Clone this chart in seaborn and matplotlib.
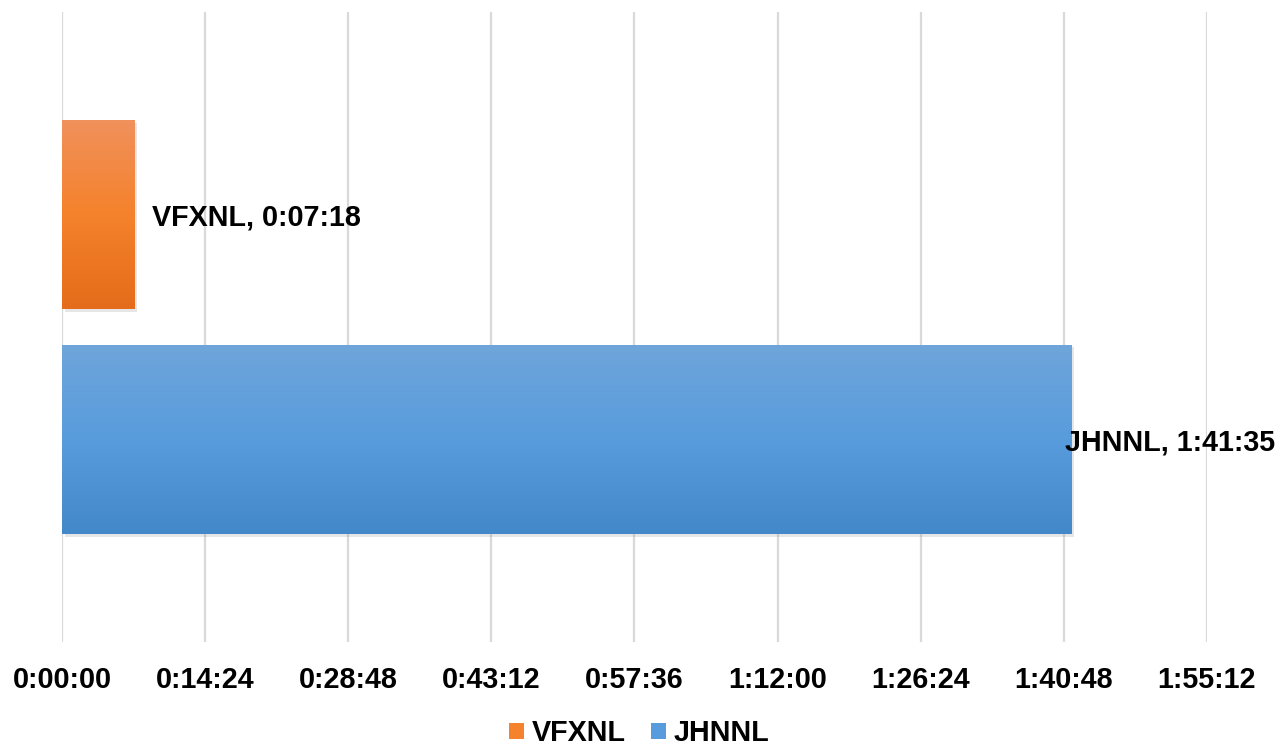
import numpy as np
import pandas as pd
import matplotlib
matplotlib.use("Agg")
import matplotlib.pyplot as plt
import matplotlib.patheffects as pe
from matplotlib.colors import LinearSegmentedColormap
from matplotlib.patches import Patch
import seaborn as sns

# data: durations in seconds
series = ["VFXNL", "JHNNL"]
durations = [438, 6095]          # 0:07:18 and 1:41:35
category = ["total", "total"]
tick_step = 864                  # 0:14:24
x_max = 6912                     # 1:55:12

colors = {"VFXNL": "#F5822F", "JHNNL": "#5A9BD9"}
gradients = {
    "VFXNL": ["#F0915C", "#F5822C", "#E46C1A"],
    "JHNNL": ["#6FA5DA", "#589CDD", "#4388C8"],
}
# label offset from bar end (pixels); the long one is pushed back to fit
label_offsets = [17, -7]


def fmt_time(sec):
    sec = int(round(sec))
    return f"{sec // 3600}:{(sec % 3600) // 60:02d}:{sec % 60:02d}"


df = pd.DataFrame({"cat": category, "series": series, "dur": durations})

sns.set_theme(style="white")
plt.rcParams["font.family"] = ["Liberation Sans", "DejaVu Sans"]
plt.rcParams["font.weight"] = "bold"
fs = 20.7

fig = plt.figure(figsize=(12.84, 7.45), dpi=100)
ax = fig.add_axes([62 / 1284, 103 / 745, 1145 / 1284, 630 / 745])

sns.barplot(data=df, x="dur", y="cat", hue="series", hue_order=series,
            palette=colors, orient="h", width=0.8, gap=0.156, legend=False,
            ax=ax, zorder=3)

# gradient fill + soft shadow on each bar
for patch, name in zip(ax.patches, series):
    x0, y0 = patch.get_x(), patch.get_y()
    w, h = patch.get_width(), patch.get_height()
    cmap = LinearSegmentedColormap.from_list(name, gradients[name])
    grad = np.linspace(0, 1, 256).reshape(-1, 1)
    im = ax.imshow(grad, cmap=cmap, aspect="auto",
                   extent=[x0, x0 + w, y0 + h, y0], origin="upper", zorder=3.5)
    im.set_clip_path(patch)
    patch.set_path_effects([pe.SimplePatchShadow(offset=(2, -2), shadow_rgbFace="#909090", alpha=0.22),
                            pe.Normal()])
    patch.set_edgecolor("none")

ax.set_xlim(0, x_max)
ax.set_ylim(0.561, -0.561)

# data labels
for patch, name, d, off in zip(ax.patches, series, durations, label_offsets):
    yc = patch.get_y() + patch.get_height() / 2
    ax.annotate(f"{name}, {fmt_time(d)}", xy=(d, yc), xytext=(off * 0.72, 0),
                textcoords="offset points", ha="left", va="center_baseline",
                fontsize=fs, fontweight="bold", color="black", zorder=5,
                annotation_clip=False)

ticks = np.arange(0, x_max + 1, tick_step)
ax.set_xticks(ticks)
ax.set_xticklabels([fmt_time(t) for t in ticks], fontsize=fs, fontweight="bold")
ax.tick_params(axis="x", length=0, pad=17.5, colors="black")
ax.set_yticks([])
ax.set_xlabel("")
ax.set_ylabel("")
ax.grid(axis="x", color="#D9D9D9", linewidth=1.6, zorder=0)
ax.set_axisbelow(True)
for s in ax.spines.values():
    s.set_visible(False)

handles = [Patch(facecolor=gradients[n][1], edgecolor="none") for n in series]
fig.legend(handles, series, loc="center", bbox_to_anchor=(0.4977, 0.016),
           ncol=2, frameon=False, prop={"size": fs, "weight": "bold"},
           labelcolor="black",
           handlelength=0.52, handleheight=0.52, handletextpad=0.28,
           columnspacing=0.87)

fig.savefig("out.png", dpi=100)
